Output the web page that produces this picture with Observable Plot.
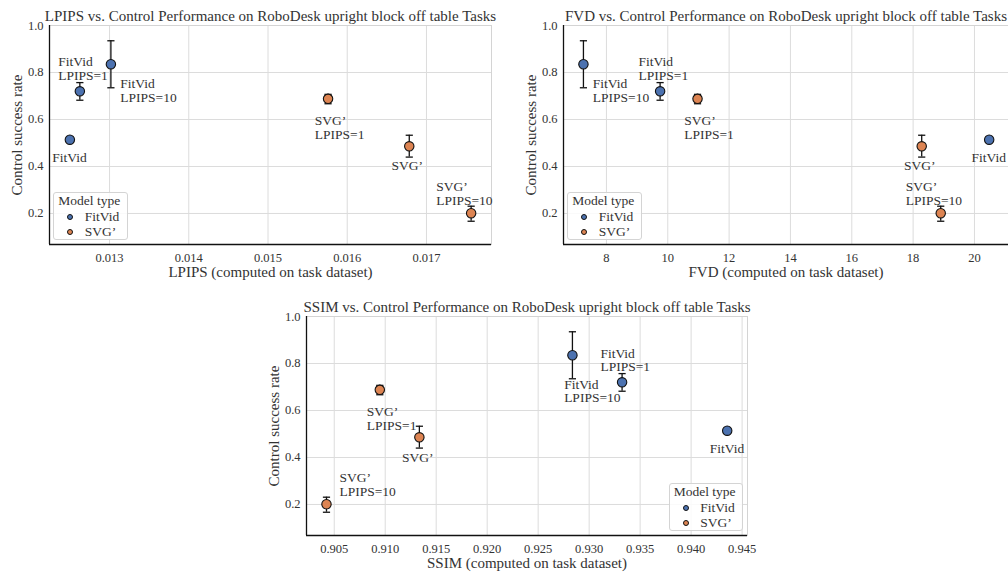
<!DOCTYPE html>
<html><head><meta charset="utf-8">
<script src="https://cdn.jsdelivr.net/npm/d3@7"></script>
<script src="https://cdn.jsdelivr.net/npm/@observablehq/plot@0.6"></script>
<style>
body{margin:0;background:#fff;}
#wrap{position:relative;width:1008px;height:572px;overflow:hidden;font-family:"Liberation Serif",serif;background:#fff;}
.panel{position:absolute;}
.panel svg{display:block;max-width:none;}
.legend{position:absolute;border:1px solid #d4d4d4;border-radius:3px;background:rgba(255,255,255,0.85);box-sizing:border-box;color:#333;font-size:13.5px;}
.legend .t{position:absolute;left:4px;line-height:1;white-space:nowrap;}
.legend .d{position:absolute;width:4px;height:4px;border:1px solid #111;border-radius:50%;}
</style></head>
<body><div id="wrap"></div>
<script>
// ---- data ----
const models = ["FitVid", "FitVid\nLPIPS=1", "FitVid\nLPIPS=10", "SVG’\nLPIPS=1", "SVG’", "SVG’\nLPIPS=10"];
const modelType = ["FitVid", "FitVid", "FitVid", "SVG’", "SVG’", "SVG’"];
const success   = [0.514, 0.720, 0.835, 0.688, 0.486, 0.201];
const successLo = [0.514, 0.682, 0.735, 0.667, 0.440, 0.167];
const successHi = [0.514, 0.757, 0.935, 0.707, 0.533, 0.231];
const lpips = [0.012499, 0.012625, 0.013017, 0.015758, 0.016783, 0.017564];
const fvd   = [20.48, 9.75, 7.25, 10.97, 18.28, 18.90];
const ssim  = [0.94354, 0.93323, 0.92836, 0.90947, 0.91335, 0.90424];
const typeNames = ["FitVid", "SVG’"];
const typeColors = ["#4c72b0", "#dd8452"];
const successTicks = [0.2, 0.4, 0.6, 0.8, 1.0];
const lpipsTicks = [0.013, 0.014, 0.015, 0.016, 0.017];
const fvdTicks = [8, 10, 12, 14, 16, 18, 20];
const ssimTicks = [0.905, 0.910, 0.915, 0.920, 0.925, 0.930, 0.935, 0.940, 0.945];
const yLabel = "Control success rate";

// ---- layout (pixels) ----
const offTop  = [[-17.6,18],[-21.6,-22.4],[9.4,26.6],[-13.3,29],[-17.7,19.3],[-35,-19.4]];
const offSsim = [[-17.4,17.7],[-21.7,-22.3],[-8.3,36],[-13,29],[-17.3,20],[13,-19.4]];

const panels = [
  {left:0, top:0, width:500, height:290, m:[25,9,46,49], xv:lpips, xd:[0.012242,0.017821], xt:lpipsTicks, xf:".3f",
   title:"LPIPS vs. Control Performance on RoboDesk upright block off table Tasks", xl:"LPIPS (computed on task dataset)", off:offTop,
   leg:{left:53.3, top:191.7, w:74.5, h:48.5}},
  {left:500, top:0, width:508, height:290, m:[25,0,46,63], xv:fvd, xd:[6.6,21.11], xt:fvdTicks, xf:"d",
   title:"FVD vs. Control Performance on RoboDesk upright block off table Tasks", xl:"FVD (computed on task dataset)", off:offTop,
   leg:{left:567.3, top:191.7, w:74.5, h:48.5}},
  {left:250, top:290, width:510, height:282, m:[26,13,37,56], xv:ssim, xd:[0.90228,0.94553], xt:ssimTicks, xf:".3f",
   title:"SSIM vs. Control Performance on RoboDesk upright block off table Tasks", xl:"SSIM (computed on task dataset)", off:offSsim,
   leg:{left:668.7, top:482.7, w:74, h:48.5}}
];

const yDomain = [0.068, 1.0];
const cap = {draw(ctx){ ctx.moveTo(-3.6,0); ctx.lineTo(3.6,0); }};
const wrap = document.getElementById("wrap");

for (const p of panels) {
  const data = models.map((m, i) => ({label: m, type: modelType[i], x: p.xv[i], y: success[i], lo: successLo[i], hi: successHi[i], i}));
  const bars = data.filter(d => d.hi > d.lo);
  const labelMarks = data.map(d => Plot.text([d], {x: "x", y: "y", text: "label", textAnchor: "start", lineAnchor: "middle",
    dx: p.off[d.i][0], dy: p.off[d.i][1], fontSize: 13.5, fill: "#333", lineHeight: 1.0}));
  const chart = Plot.plot({
    width: p.width, height: p.height,
    marginTop: p.m[0], marginRight: p.m[1], marginBottom: p.m[2], marginLeft: p.m[3],
    style: {fontFamily: "Liberation Serif, serif", fontSize: "12.5px", color: "#333", background: "white", overflow: "visible"},
    x: {domain: p.xd},
    y: {domain: yDomain},
    color: {domain: typeNames, range: typeColors},
    marks: [
      Plot.gridX(p.xt, {stroke: "#dcdcdc", strokeOpacity: 1, strokeWidth: 1}),
      Plot.gridY(successTicks, {stroke: "#dcdcdc", strokeOpacity: 1, strokeWidth: 1}),
      Plot.frame({stroke: "#d4d4d4", strokeWidth: 1}),
      Plot.ruleX([p.xd[0]], {stroke: "#111", strokeWidth: 1.3}),
      Plot.ruleY([yDomain[0]], {stroke: "#111", strokeWidth: 1.3}),
      Plot.axisX(p.xt, {tickSize: 0, tickPadding: 9, tickFormat: d3.format(p.xf), label: null, fill: "#333"}),
      Plot.axisY(successTicks, {tickSize: 0, tickPadding: 6, tickFormat: d3.format(".1f"), label: null, fill: "#333"}),
      Plot.ruleX(bars, {x: "x", y1: "lo", y2: "hi", stroke: "#111", strokeWidth: 1.3}),
      Plot.dot(bars, {x: "x", y: "lo", symbol: cap, r: 4, stroke: "#111", strokeWidth: 1.3}),
      Plot.dot(bars, {x: "x", y: "hi", symbol: cap, r: 4, stroke: "#111", strokeWidth: 1.3}),
      Plot.dot(data, {x: "x", y: "y", r: 4.7, fill: "type", stroke: "#111", strokeWidth: 1.1}),
      ...labelMarks,
      Plot.text([p.title], {frameAnchor: "top", dy: -9, fontSize: 15, fill: "#333", lineAnchor: "middle"}),
      Plot.text([p.xl], {frameAnchor: "bottom", dy: 28, fontSize: 15, fill: "#333", lineAnchor: "middle"}),
      Plot.text([yLabel], {frameAnchor: "left", dx: -32, rotate: -90, textAnchor: "middle", fontSize: 15, fill: "#333", lineAnchor: "middle"})
    ]
  });
  const div = document.createElement("div");
  div.className = "panel";
  div.style.left = p.left + "px"; div.style.top = p.top + "px";
  div.style.width = p.width + "px"; div.style.height = p.height + "px";
  div.appendChild(chart);
  wrap.appendChild(div);

  const lg = document.createElement("div");
  lg.className = "legend";
  lg.style.left = p.leg.left + "px"; lg.style.top = p.leg.top + "px";
  lg.style.width = p.leg.w + "px"; lg.style.height = p.leg.h + "px";
  let html = `<div class="t" style="top:1.5px">Model type</div>`;
  typeNames.forEach((n, k) => {
    const cy = 25 + 15 * k;
    html += `<div class="d" style="left:${16 - 3}px;top:${cy - 3 - 1}px;background:${typeColors[k]}"></div>`;
    html += `<div class="t" style="left:30.5px;top:${cy - 8}px">${n}</div>`;
  });
  lg.innerHTML = html;
  wrap.appendChild(lg);
}
</script></body></html>
